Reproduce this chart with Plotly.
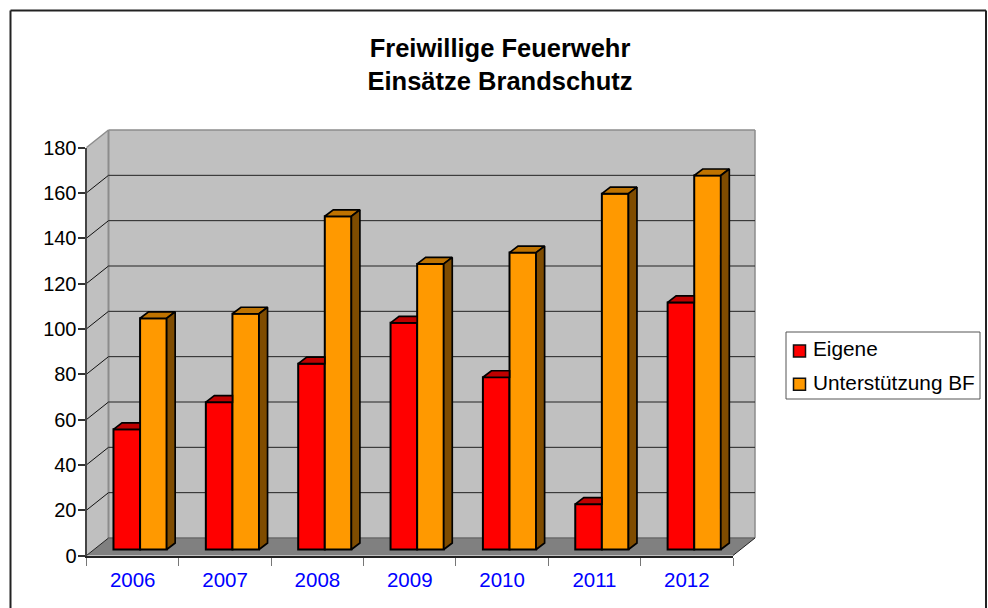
import plotly.graph_objects as go

years = ["2006", "2007", "2008", "2009", "2010", "2011", "2012"]
eigene = [53, 65, 82, 100, 76, 20, 109]
unterstuetzung = [102, 104, 147, 126, 131, 157, 165]
y_ticks = [0, 20, 40, 60, 80, 100, 120, 140, 160, 180]
series_names = ["Eigene", "Unterstützung BF"]
title_text = "Freiwillige Feuerwehr<br>Einsätze Brandschutz"

W, H = 988, 608
# front face of the plot box in pixels
L, R, T, B = 86.5, 733.0, 147.5, 555.5
DX, DY = 22.0, 17.5            # box depth in pixels
PX_CAT = (R - L) / len(years)
PX_VAL = (B - T) / 180.0
BAR_W = 26.6 / PX_CAT          # bar width, category units
BAR_SHIFT = 7.4 / PX_CAT       # bar group shift to the right
BAR_BASE = 6.0 / PX_VAL        # bars stand 6 px up the floor
DEPTH_X = 8.5 / PX_CAT
DEPTH_Y = 6.5 / PX_VAL

RED, RED_TOP = "#FF0000", "#BF0000"
ORANGE, ORANGE_TOP, ORANGE_SIDE = "#FF9900", "#BF7300", "#7F4C00"
WALL, FLOOR, EDGE = "#C0C0C0", "#808080", "#8C8C8C"
FONT = "Liberation Sans, Arial, sans-serif"


def px(x):
    return x / W


def py(y):
    return 1 - y / H


def poly(points, fill, line=None, width=0):
    path = "M" + " L".join(f"{px(x):.5f},{py(y):.5f}" for x, y in points) + " Z"
    return dict(type="path", xref="paper", yref="paper", path=path, fillcolor=fill,
                line=dict(color=line or fill, width=width), layer="below")


def seg(x0, y0, x1, y1, color, width=1, layer="below"):
    return dict(type="line", xref="paper", yref="paper", x0=px(x0), y0=py(y0), x1=px(x1), y1=py(y1),
                line=dict(color=color, width=width), layer=layer)


shapes = [
    poly([(L + DX, T - DY), (R + DX, T - DY), (R + DX, B - DY), (L + DX, B - DY)], WALL),
    poly([(L, T), (L + DX, T - DY), (L + DX, B - DY), (L, B)], WALL),
    poly([(L, B), (R, B), (R + DX, B - DY), (L + DX, B - DY)], FLOOR),
    seg(L, T, L + DX, T - DY, EDGE, 1.5),
    seg(L + DX, T - DY, R + DX, T - DY, EDGE, 1.5),
    seg(R + DX, T - DY, R + DX, B - DY, EDGE, 1.5),
    seg(L + DX, T - DY, L + DX, B - DY, EDGE, 2),
    seg(L + DX, B - DY, R + DX, B - DY, "#6a6a6a", 1.5),
    seg(R, B, R + DX, B - DY, "#222222", 1),
    seg(L, B, L + DX, B - DY, "#222222", 1),
]
for v in y_ticks[1:-1]:
    yy = B - v * PX_VAL
    shapes.append(seg(L, yy, L + DX, yy - DY, "#111111", 1))
    shapes.append(seg(L + DX, yy - DY, R + DX, yy - DY, "#222222", 1))

# outer frame, open at the bottom of the page
shapes += [
    seg(10.5, 10.5, 986, 10.5, "#222222", 2, "above"),
    seg(10.5, 10.5, 10.5, 609, "#222222", 2, "above"),
    seg(986, 10.5, 986, 609, "#222222", 2, "above"),
]

# legend box with swatches
LEG_L, LEG_R, LEG_T, LEG_B = 786, 980, 332, 399
shapes.append(dict(type="rect", xref="paper", yref="paper", x0=px(LEG_L), x1=px(LEG_R), y0=py(LEG_T), y1=py(LEG_B),
                   fillcolor="white", line=dict(color="#555555", width=1), layer="above"))
annotations = []
for name, col, yc, ys in zip(series_names, [RED, ORANGE], [348.5, 382], [351, 384.2]):
    shapes.append(dict(type="rect", xref="paper", yref="paper", x0=px(793.5), x1=px(805.5), y0=py(ys - 6), y1=py(ys + 6),
                       fillcolor=col, line=dict(color="#111111", width=1.5), layer="above"))
    annotations.append(dict(text=name, xref="paper", yref="paper", x=px(811), y=py(yc), xanchor="left",
                            yanchor="middle", showarrow=False, font=dict(family=FONT, size=20.8, color="black")))

fig = go.Figure()
centers = [i + 0.5 + BAR_SHIFT for i in range(len(years))]
EDGE_W = 2

fig.add_trace(go.Bar(x=centers, y=eigene, base=BAR_BASE, width=BAR_W, offset=-BAR_W, name=series_names[0],
                     marker=dict(color=RED, line=dict(color="black", width=EDGE_W)), showlegend=False))
fig.add_trace(go.Bar(x=centers, y=unterstuetzung, base=BAR_BASE, width=BAR_W, offset=0, name=series_names[1],
                     marker=dict(color=ORANGE, line=dict(color="black", width=EDGE_W)), showlegend=False))


def faces(kind, values):
    xs, ys = [], []
    for c, v in zip(centers, values):
        top = v + BAR_BASE
        if kind == "top_left":      # top of the left bar, cut off where the right bar begins
            xs += [c - BAR_W, c, c, c - BAR_W + DEPTH_X, c - BAR_W, None]
            ys += [top, top, top + DEPTH_Y, top + DEPTH_Y, top, None]
        elif kind == "top_right":
            xs += [c, c + BAR_W, c + BAR_W + DEPTH_X, c + DEPTH_X, c, None]
            ys += [top, top, top + DEPTH_Y, top + DEPTH_Y, top, None]
        else:                       # right-hand side of the right bar
            xs += [c + BAR_W, c + BAR_W + DEPTH_X, c + BAR_W + DEPTH_X, c + BAR_W, c + BAR_W, None]
            ys += [BAR_BASE, BAR_BASE + DEPTH_Y, top + DEPTH_Y, top, BAR_BASE, None]
    return xs, ys


for kind, vals, col in [("top_left", eigene, RED_TOP), ("top_right", unterstuetzung, ORANGE_TOP),
                        ("side", unterstuetzung, ORANGE_SIDE)]:
    xs, ys = faces(kind, vals)
    fig.add_trace(go.Scatter(x=xs, y=ys, mode="lines", fill="toself", fillcolor=col,
                             line=dict(color="black", width=1.7), hoverinfo="skip", showlegend=False))

fig.update_layout(
    width=W, height=H, margin=dict(l=0, r=0, t=0, b=0), autosize=False,
    paper_bgcolor="white", plot_bgcolor="rgba(0,0,0,0)", barmode="overlay", showlegend=False,
    title=dict(text=title_text, x=500 / W, xanchor="center", y=1 - 57 / H, yanchor="middle",
               font=dict(family=FONT, size=25.5, color="black", weight="bold")),
    xaxis=dict(domain=[px(L), px(R)], range=[0, len(years)], tickmode="array", automargin=False,
               tickvals=[i + 0.5 for i in range(len(years))], ticktext=years, ticks="", ticklabelstandoff=5,
               tickfont=dict(family=FONT, size=20.5, color="#0000FF"), showgrid=False, zeroline=False,
               showline=True, linecolor="#222222", linewidth=2,
               minor=dict(tickmode="array", tickvals=list(range(len(years) + 1)), ticks="outside",
                          ticklen=8, tickwidth=1, tickcolor="#777777", showgrid=False)),
    yaxis=dict(domain=[py(B), py(T)], range=[0, 180], tickmode="array", tickvals=y_ticks, ticks="outside",
               ticklen=7, tickwidth=1.5, tickcolor="#333333", automargin=False, ticklabelstandoff=-3,
               tickfont=dict(family=FONT, size=20, color="black"),
               showgrid=False, zeroline=False, showline=True, linecolor="#444444", linewidth=2),
    shapes=shapes, annotations=annotations,
)

fig.write_html("out.html", config={"displayModeBar": False}, post_script="document.body.style.margin='0';")
